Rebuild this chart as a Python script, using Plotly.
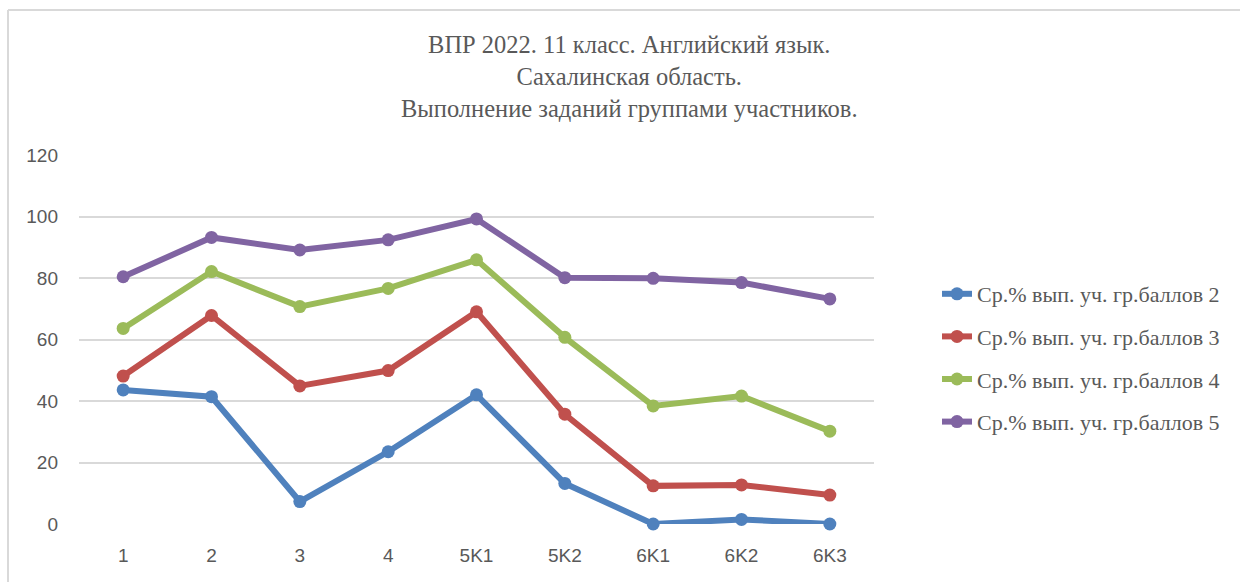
import plotly.graph_objects as go

# Task labels along the x axis
tasks = ["1", "2", "3", "4", "5K1", "5K2", "6K1", "6K2", "6K3"]

# Average completion % for each score group
grade2 = [43.6, 41.4, 7.3, 23.5, 42.0, 13.2, 0.0, 1.5, 0.0]
grade3 = [48.1, 67.8, 44.9, 49.9, 69.0, 35.7, 12.4, 12.7, 9.4]
grade4 = [63.6, 82.1, 70.7, 76.6, 85.9, 60.7, 38.4, 41.6, 30.2]
grade5 = [80.4, 93.2, 89.1, 92.4, 99.2, 80.1, 79.9, 78.5, 73.2]

series_names = [
    "Ср.% вып. уч. гр.баллов 2",
    "Ср.% вып. уч. гр.баллов 3",
    "Ср.% вып. уч. гр.баллов 4",
    "Ср.% вып. уч. гр.баллов 5",
]
series_values = [grade2, grade3, grade4, grade5]
colors = ["#4F81BD", "#C0504D", "#9BBB59", "#8064A2"]

y_ticks = [0, 20, 40, 60, 80, 100, 120]

title_text = ("ВПР 2022. 11 класс. Английский язык.<br>"
              "Сахалинская область.<br>"
              "Выполнение заданий группами участников.")

fig = go.Figure()
for i, (name, vals, col) in enumerate(zip(series_names, series_values, colors)):
    fig.add_trace(go.Scatter(
        x=tasks, y=vals, name=name, mode="lines+markers",
        line=dict(color=col, width=6),
        marker=dict(color=col, size=13),
        legendgroup=f"g{i}", cliponaxis=False,
    ))

W, H = 1240, 582
L, R, T, B = 79, 366, 155, 58
pw, ph = W - L - R, H - T - B

def px_x(px):
    return (px - L) / pw

def px_y(py):
    return (H - B - py) / ph

fig.update_layout(
    width=W, height=H,
    margin=dict(l=L, r=R, t=T, b=B),
    paper_bgcolor="white", plot_bgcolor="white",
    showlegend=True,
    legend=dict(
        x=px_x(937), y=px_y(358), xanchor="left", yanchor="middle",
        font=dict(family="Liberation Serif", size=22, color="#595959"),
        traceorder="grouped", tracegroupgap=11,
        bgcolor="rgba(0,0,0,0)",
    ),
    xaxis=dict(
        type="category", range=[-0.5, 8.5],
        showgrid=False, zeroline=False, showline=False, ticks="",
        tickfont=dict(family="Liberation Sans", size=19, color="#595959"),
        ticklabelstandoff=18,
    ),
    yaxis=dict(
        range=[0, 120], tickvals=y_ticks,
        showgrid=True, gridcolor="#D9D9D9", gridwidth=2,
        zeroline=False, showline=False, ticks="",
        tickfont=dict(family="Liberation Sans", size=19, color="#595959"),
        ticklabelstandoff=20,
    ),
    annotations=[dict(
        text=title_text, xref="paper", yref="paper",
        x=px_x(629), y=px_y(29), xanchor="center", yanchor="top",
        showarrow=False, align="center",
        font=dict(family="Liberation Serif", size=24.5, color="#595959"),
    )],
    shapes=[
        dict(type="line", xref="paper", yref="paper",
             x0=px_x(8), x1=px_x(1245), y0=px_y(10), y1=px_y(10),
             line=dict(color="#D9D9D9", width=2)),
        dict(type="line", xref="paper", yref="paper",
             x0=px_x(8), x1=px_x(8), y0=px_y(10), y1=px_y(590),
             line=dict(color="#D9D9D9", width=2)),
    ],
)

fig.write_html("out.html")
